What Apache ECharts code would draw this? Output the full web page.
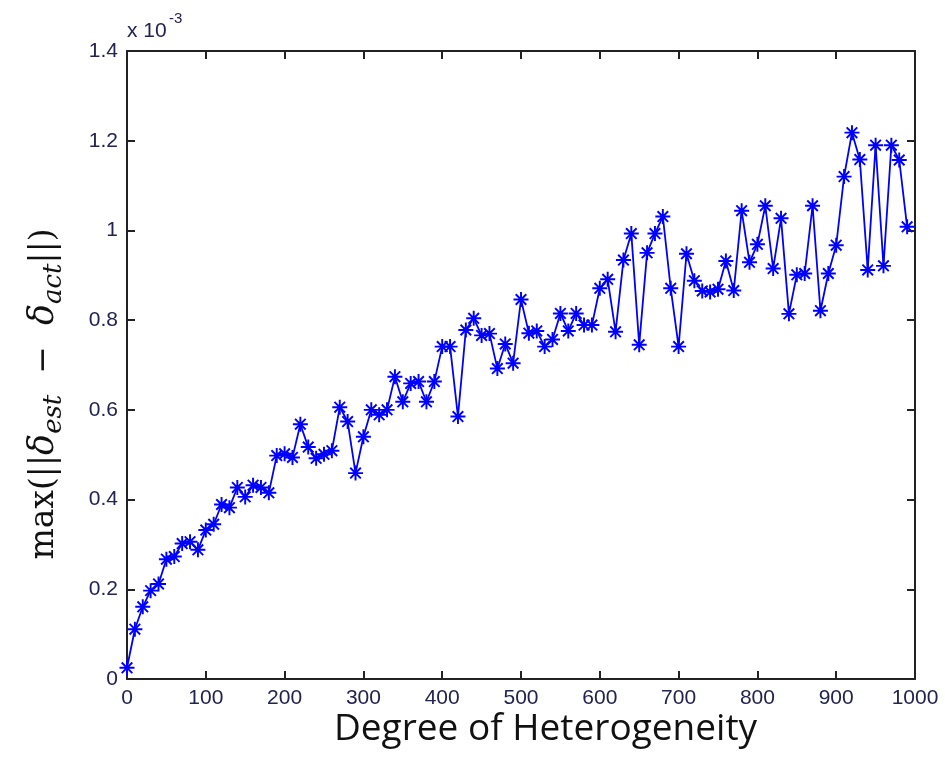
<!DOCTYPE html>
<html><head><meta charset="utf-8">
<script src="https://cdn.jsdelivr.net/npm/echarts@6/dist/echarts.min.js"></script>
<style>html,body{margin:0;padding:0;background:#fff}#c{width:945px;height:759px}</style>
</head><body><div id="c"></div>
<script>
// x positions (Degree of Heterogeneity)
const xValues = [0,10,20,30,40,50,60,70,80,90,100,110,120,130,140,150,160,170,180,190,
200,210,220,230,240,250,260,270,280,290,300,310,320,330,340,350,360,370,380,390,
400,410,420,430,440,450,460,470,480,490,500,510,520,530,540,550,560,570,580,590,
600,610,620,630,640,650,660,670,680,690,700,710,720,730,740,750,760,770,780,790,
800,810,820,830,840,850,860,870,880,890,900,910,920,930,940,950,960,970,980,990];
// max error values, in units of 1e-3
const yValues = [0.025,0.111,0.161,0.197,0.212,0.267,0.273,0.302,0.306,0.288,
0.332,0.345,0.389,0.382,0.427,0.406,0.432,0.427,0.415,0.498,
0.502,0.494,0.568,0.517,0.492,0.501,0.509,0.606,0.574,0.459,
0.540,0.600,0.589,0.600,0.674,0.618,0.659,0.663,0.618,0.663,
0.741,0.741,0.585,0.778,0.804,0.766,0.770,0.692,0.747,0.704,
0.846,0.771,0.776,0.741,0.757,0.815,0.776,0.815,0.789,0.789,
0.871,0.891,0.774,0.934,0.993,0.745,0.950,0.993,1.031,0.871,
0.741,0.948,0.888,0.865,0.863,0.869,0.932,0.866,1.044,0.929,
0.969,1.055,0.915,1.027,0.814,0.901,0.904,1.055,0.821,0.904,
0.967,1.120,1.218,1.158,0.912,1.190,0.921,1.190,1.157,1.008];
const xTicks = [0,100,200,300,400,500,600,700,800,900,1000];
const yTicks = [0,0.2,0.4,0.6,0.8,1,1.2,1.4];
const xTitle = 'Degree of Heterogeneity';
const scaleNote = 'x 10';
const scaleExp = '-3';

const asterisk = 'path://M-0.13,-1L0.13,-1L0.13,1L-0.13,1Z' +
  'M-1,-0.13L1,-0.13L1,0.13L-1,0.13Z' +
  'M-0.615,-0.799L0.799,0.615L0.615,0.799L-0.799,-0.615Z' +
  'M-0.799,0.615L0.615,-0.799L0.799,-0.615L-0.615,0.799Z';

const chart = echarts.init(document.getElementById('c'), null, {renderer:'canvas'});
const tickColor = '#232350';
const lblFont = () => ({fontFamily:'Liberation Sans', fontSize:21, color:tickColor});
const axLine = () => ({show:true, onZero:false, lineStyle:{color:'#222', width:2}});
const axTick = () => ({show:true, inside:true, length:8, lineStyle:{color:'#222', width:2}});

chart.setOption({
  animation:false,
  backgroundColor:'#fff',
  grid:{left:127, right:30, top:51, bottom:80, containLabel:false},
  xAxis:[{
    type:'value', min:xTicks[0], max:xTicks[xTicks.length-1], interval:100,
    axisLine:axLine(), axisTick:axTick(), splitLine:{show:false},
    axisLabel:Object.assign({margin:9, formatter:v=>String(v)}, lblFont())
  },{
    type:'value', position:'top', min:0, max:1000, interval:100,
    axisLine:axLine(), axisTick:axTick(), splitLine:{show:false}, axisLabel:{show:false}
  }],
  yAxis:[{
    type:'value', min:yTicks[0], max:yTicks[yTicks.length-1], interval:0.2,
    axisLine:axLine(), axisTick:axTick(), splitLine:{show:false},
    axisLabel:Object.assign({margin:9, formatter:v=>String(+v.toFixed(1))}, lblFont())
  },{
    type:'value', position:'right', min:0, max:1.4, interval:0.2,
    axisLine:axLine(), axisTick:axTick(), splitLine:{show:false}, axisLabel:{show:false}
  }],
  series:[{
    type:'line',
    data:xValues.map((x,i)=>[x,yValues[i]]),
    symbol:asterisk, symbolSize:15, showAllSymbol:true,
    lineStyle:{color:'#0000ff', width:1.8},
    itemStyle:{color:'#0000ff'},
    clip:false
  }],
  graphic:[
    {type:'text', left:334, top:711, style:{text:xTitle, fontFamily:'Open Sans', fontSize:37, fill:'#111'}},
    {type:'text', x:44, y:394, rotation:Math.PI/2,
      style:{
        text:'{b|max(||}{d|δ}{s|est}{b|  −  }{d|δ}{s|act}{b|||)}',
        align:'center', verticalAlign:'middle',
        rich:{
          b:{fontFamily:'DejaVu Serif', fontSize:33, fill:'#111', lineHeight:46, verticalAlign:'middle'},
          d:{fontFamily:'DejaVu Serif', fontStyle:'italic', fontSize:35, fill:'#111', lineHeight:46, verticalAlign:'middle'},
          s:{fontFamily:'DejaVu Serif', fontStyle:'italic', fontSize:26, fill:'#111', lineHeight:28, verticalAlign:'bottom'}
        }
      }},
    {type:'text', left:127, top:21, style:{text:scaleNote, fontFamily:'Liberation Sans', fontSize:21, fill:tickColor}},
    {type:'text', left:169, top:11, style:{text:scaleExp, fontFamily:'Liberation Sans', fontSize:15, fill:tickColor}}
  ]
});
</script></body></html>
